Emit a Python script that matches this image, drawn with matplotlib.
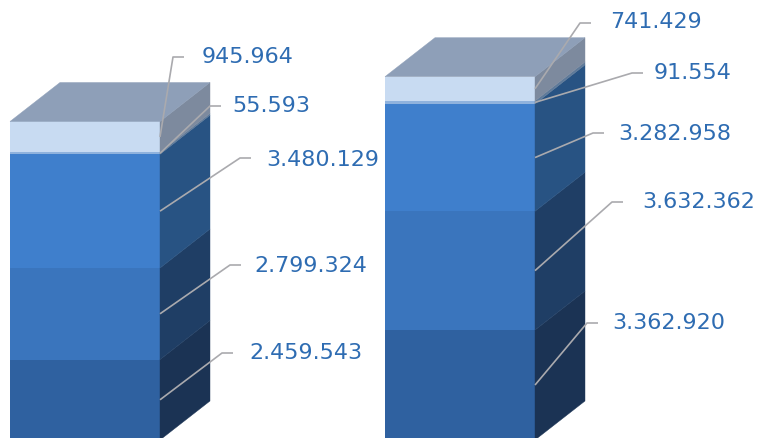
import matplotlib.pyplot as plt
from matplotlib.patches import Polygon

# stacked values, bottom segment first
left_values = [2459543, 2799324, 3480129, 55593, 945964]
right_values = [3362920, 3632362, 3282958, 91554, 741429]
left_labels = ['2.459.543', '2.799.324', '3.480.129', '55.593', '945.964']
right_labels = ['3.362.920', '3.632.362', '3.282.958', '91.554', '741.429']

front_colors = ['#2f61a0', '#3a75bd', '#3f7fcc', '#8fb2dd', '#c8dbf2']
side_colors = ['#1b3354', '#1f3e65', '#285383', '#5f7a99', '#7d8a9e']
top_color = '#8e9fb8'
text_color = '#2e6cb2'
line_color = '#aaaaae'

# layout in pixels (x from left, y from top): elbow of leader, text start
left_elbows = [(222, 353), (230, 265), (240, 158), (210, 106), (173, 57)]
right_elbows = [(587, 323), (612, 202), (593, 133), (632, 73), (580, 23)]
left_text = [(249, 353), (254, 266), (266, 160), (232, 106), (202, 57)]
right_text = [(612, 323), (642, 202), (618, 134), (654, 73), (610, 22)]

W, H = 761, 438
base_px = 440
px_per_unit = 32.7e-6
bar_w = 150
depth_x = 50
depth_y = 39 / px_per_unit

fig = plt.figure(figsize=(W / 100, H / 100), dpi=100)
ax = fig.add_axes([0, 0, 1, 1])
ax.set_xlim(0, W)
ax.set_ylim((base_px - H) / px_per_unit, base_px / px_per_unit)
ax.axis('off')


def py(p):
    # pixel row -> value units
    return (base_px - p) / px_per_unit


def draw_bar(x0, values, labels, elbows, text_pos):
    bottoms = [sum(values[:i]) for i in range(len(values))]
    ax.bar([x0] * len(values), values, width=bar_w, bottom=bottoms,
           align='edge', color=front_colors, linewidth=0, zorder=2)
    x1 = x0 + bar_w
    for b, v, c in zip(bottoms, values, side_colors):
        ax.add_patch(Polygon([(x1, b), (x1 + depth_x, b + depth_y),
                              (x1 + depth_x, b + v + depth_y), (x1, b + v)],
                             closed=True, facecolor=c, edgecolor=c,
                             linewidth=0.3, zorder=2))
    top = sum(values)
    ax.add_patch(Polygon([(x0, top), (x1, top), (x1 + depth_x, top + depth_y),
                          (x0 + depth_x, top + depth_y)],
                         closed=True, facecolor=top_color, edgecolor=top_color,
                         linewidth=0.3, zorder=2))
    for b, v, lab, (ex, ey), (tx, ty) in zip(bottoms, values, labels, elbows, text_pos):
        mid = b + v / 2
        ax.plot([x1, ex, ex + 11], [mid, py(ey), py(ey)], color=line_color,
                lw=1.2, zorder=3, solid_capstyle='butt')
        ax.text(tx, py(ty), lab, color=text_color, fontsize=16,
                ha='left', va='center', zorder=4)


draw_bar(10, left_values, left_labels, left_elbows, left_text)
draw_bar(385, right_values, right_labels, right_elbows, right_text)

fig.savefig('out.png', dpi=100)
